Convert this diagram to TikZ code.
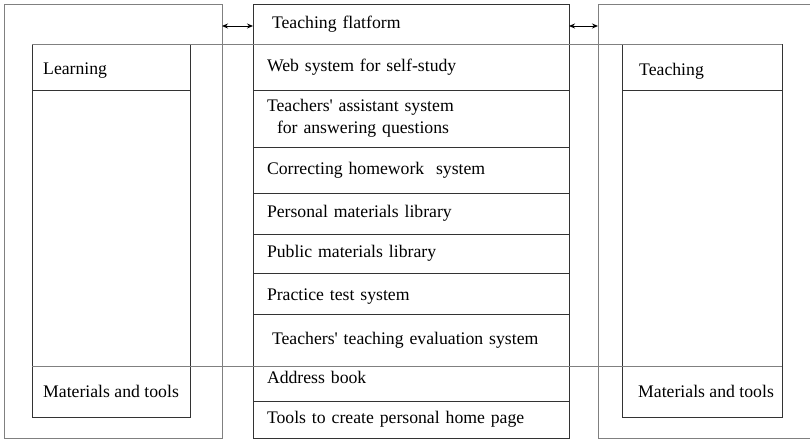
\documentclass[tikz,border=0pt]{standalone}
\usepackage{fontspec}
\setmainfont{Liberation Serif}
\usetikzlibrary{positioning, arrows.meta}

\tikzset{
	frame/.style={draw=gray, line width=0.9pt, anchor=north west, outer sep=0pt, inner sep=0pt},
	row/.style={draw=black!80, line width=0.9pt, anchor=north west, outer sep=0pt, inner ysep=0pt, inner xsep=14pt, text width=288pt, minimum height=#1, align=left},
	side/.style={draw=black!80, line width=0.9pt, anchor=north west, outer sep=0pt, inner sep=0pt, minimum width=#1},
	tag/.style={anchor=west, inner sep=0pt}
}

\begin{document}
\begin{tikzpicture}[x=1pt, y=-1pt, font=\fontsize{17.7}{22}\selectfont]
	\useasboundingbox (0,0) rectangle (810,439);
	\clip (0,0) rectangle (810,439);

	\begin{scope}
		\node[frame, minimum width=218pt, minimum height=434pt] (learnframe) at (4,4) {};
		\node[frame, minimum width=230pt, minimum height=434pt] (teachframe) at (598,4) {};
	\end{scope}

	\begin{scope}
		\node[row=40pt, inner xsep=19pt, text width=278pt] (platform) at (253,4) {Teaching flatform};
		\node[row=46pt] (web) at (platform.south west) {Web system for self-study};
		\node[row=57pt] (assist) at (web.south west) {Teachers\textquotesingle{} assistant system\\\hspace*{10pt}for answering questions};
		\node[row=46pt] (correct) at (assist.south west) {Correcting homework~ system};
		\node[row=41pt] (personal) at (correct.south west) {Personal materials library};
		\node[row=39pt] (public) at (personal.south west) {Public materials library};
		\node[row=41pt, text height=18pt] (practice) at (public.south west) {Practice test system};
		\node[row=52pt, inner xsep=19pt, text width=278pt] (evaluation) at (practice.south west) {Teachers\textquotesingle{} teaching evaluation system};
		\node[row=35pt, text depth=12pt] (address) at (evaluation.south west) {Address book};
		\node[row=37pt] (homepage) at (address.south west) {Tools to create personal home page};
	\end{scope}

	\begin{scope}
		\node[side=158pt, minimum height=46pt] (learnhead) at (32,44) {};
		\node[side=158pt, minimum height=276pt] (learnbody) at (learnhead.south west) {};
		\node[side=158pt, minimum height=51pt] (learntools) at (learnbody.south west) {};
		\node[tag, yshift=-4pt] (learntext) at ([xshift=11pt]learnhead.west) {Learning};
		\node[tag] (learntoolstext) at ([xshift=11pt]learntools.west) {Materials and tools};

		\node[side=160pt, minimum height=46pt] (teachhead) at (622,44) {};
		\node[side=160pt, minimum height=276pt] (teachbody) at (teachhead.south west) {};
		\node[side=160pt, minimum height=51pt] (teachtools) at (teachbody.south west) {};
		\node[tag, yshift=-4pt] (teachtext) at ([xshift=17pt]teachhead.west) {Teaching};
		\node[tag] (teachtoolstext) at ([xshift=16pt]teachtools.west) {Materials and tools};
	\end{scope}

	\begin{scope}[draw=gray, line width=0.9pt]
		\draw (learnhead.north west) -- (teachhead.north east);
		\draw (learntools.north west) -- (teachtools.north east);
	\end{scope}

	\begin{scope}[{Stealth[length=6pt, width=5pt]}-{Stealth[length=6pt, width=5pt]}, line width=0.9pt]
		\draw ([yshift=-2pt]platform.west -| learnframe.east) -- ([yshift=-2pt]platform.west);
		\draw ([yshift=-2pt]platform.east) -- ([yshift=-2pt]platform.east -| teachframe.west);
	\end{scope}
\end{tikzpicture}
\end{document}
